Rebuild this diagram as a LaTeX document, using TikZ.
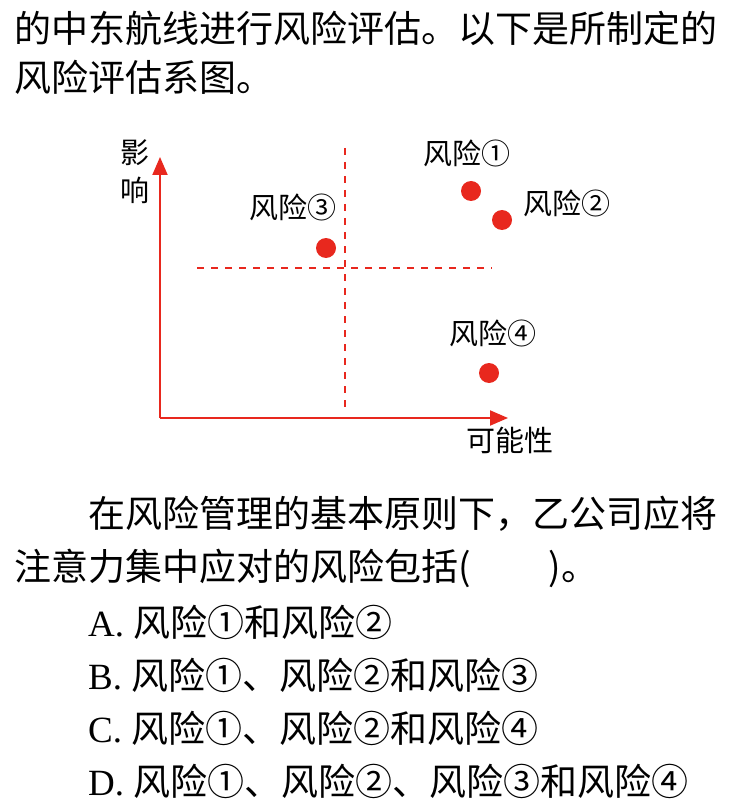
\documentclass[tikz,border=0pt]{standalone}
\usepackage{fontspec}
\setmainfont{Noto Sans CJK SC}
\newfontfamily\lat{Liberation Serif}
\usetikzlibrary{arrows.meta}
\definecolor{riskred}{RGB}{232,40,30}

\begin{document}
\begin{tikzpicture}[x=1pt,y=-1pt,>={Triangle[length=18pt,width=15pt]}]
\tikzstyle{txt}=[anchor=west,inner sep=0pt,font=\fontsize{37}{40}\selectfont]
\tikzstyle{lbl}=[inner sep=0pt,font=\fontsize{29}{30}\selectfont]
\tikzstyle{riskdot}=[circle,fill=riskred,inner sep=0pt,minimum size=20pt]
\tikzstyle{cutline}=[riskred,line width=1.6pt,dash pattern=on 7pt off 7pt]
\tikzstyle{axis}=[->,riskred,line width=2pt]
\useasboundingbox (0,0) rectangle (735,810);
% question text
\node[txt] (q1) at (14,28) {的中东航线进行风险评估。以下是所制定的};
\node[txt] (q2) at (14,77) {风险评估系图。};
% axes
\coordinate (o) at (160,418);
\coordinate (ytip) at (160,157);
\coordinate (xtip) at (508,418);
\draw[axis] (o) -- (ytip);
\draw[axis] (o) -- (xtip);
\node[lbl] (ylab1) at (135,153) {影};
\node[lbl] (ylab2) at (135,190) {响};
\node[lbl] (xlab) at (510,440) {可能性};
% dividing lines
\coordinate (vtop) at (345,148);
\coordinate (vbot) at (345,407);
\coordinate (hleft) at (197,268);
\coordinate (hright) at (492,268);
\draw[cutline] (vtop) -- (vbot);
\draw[cutline] (hleft) -- (hright);
% risks
\node[riskdot] (r1) at (471,191) {};
\node[riskdot] (r2) at (502,220) {};
\node[riskdot] (r3) at (326,248) {};
\node[riskdot] (r4) at (489,373) {};
\node[lbl] (t1) at (467,153) {风险①};
\node[lbl] (t2) at (567,203) {风险②};
\node[lbl] (t3) at (293,207) {风险③};
\node[lbl] (t4) at (493,333) {风险④};
% answer part
\node[txt] (p1) at (88,514) {在风险管理的基本原则下，乙公司应将};
\node[txt] (p2) at (14,568) {注意力集中应对的风险包括({\hspace{78pt}})。};
\node[txt] (oa) at (88,622) {{\lat A. }风险①和风险②};
\node[txt] (ob) at (88,675) {{\lat B. }风险①、风险②和风险③};
\node[txt] (oc) at (88,728) {{\lat C. }风险①、风险②和风险④};
\node[txt] (od) at (88,781) {{\lat D. }风险①、风险②、风险③和风险④};
\end{tikzpicture}
\end{document}
